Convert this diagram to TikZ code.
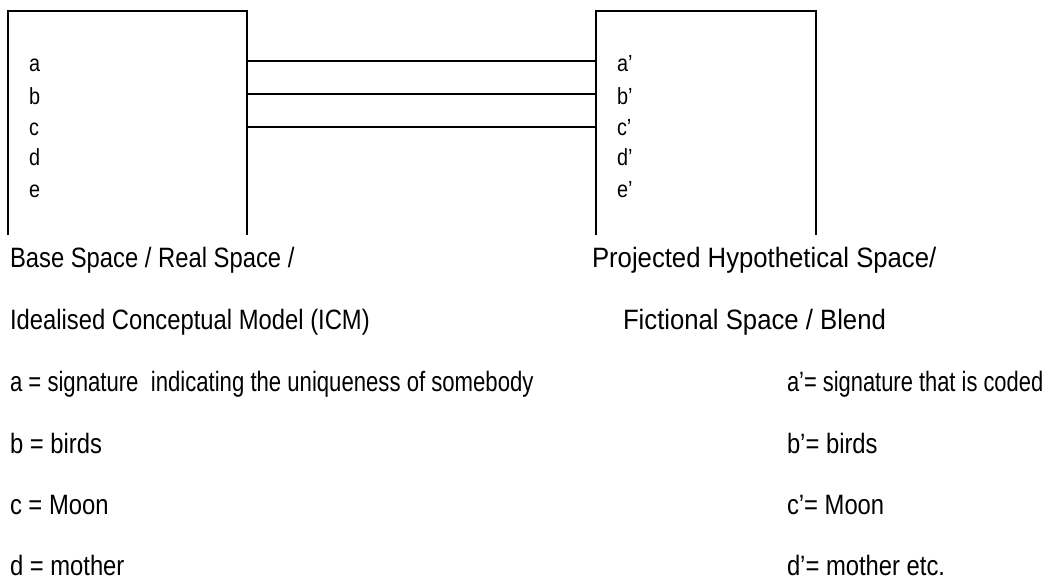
\documentclass[tikz,border=0pt]{standalone}
\usepackage{fontspec}
\setmainfont{Liberation Sans}[FakeStretch=0.85]
\begin{document}
\begin{tikzpicture}[x=0.75pt,y=-0.75pt,
  frame/.style={line width=1.1pt,black},
  link/.style={line width=1.1pt,black},
  lbl/.style={anchor=base west,inner sep=0pt,outer sep=0pt,font=\fontsize{21}{25}\selectfont},
  item/.style={anchor=base west,inner sep=0pt,outer sep=0pt,font=\fontsize{17.5}{21}\selectfont}]
\useasboundingbox (0,0) rectangle (1046,582);
% boxes (open at the bottom)
\draw[frame] (8,235) -- (8,11) -- (247,11) -- (247,235);
\draw[frame] (596,235) -- (596,11) -- (816,11) -- (816,235);
% box contents
\node[item] (a) at (29,71) {a};
\node[item] (b) at (29,104) {b};
\node[item] (c) at (29,135) {c};
\node[item] (d) at (29,165) {d};
\node[item] (e) at (29,197) {e};
\node[item] (a2) at (617,71) {a’};
\node[item] (b2) at (617,104) {b’};
\node[item] (c2) at (617,135) {c’};
\node[item] (d2) at (617,165) {d’};
\node[item] (e2) at (617,197) {e’};
% connectors between the boxes
\coordinate (la) at (247,61); \coordinate (ra) at (596,61);
\coordinate (lb) at (247,94); \coordinate (rb) at (596,94);
\coordinate (lc) at (247,127); \coordinate (rc) at (596,127);
\draw[link] (la) -- (ra);
\draw[link] (lb) -- (rb);
\draw[link] (lc) -- (rc);
% captions
\node[lbl] (t1) at (10,267) {Base Space / Real Space /};
\node[lbl] (t2) at (10,329) {Idealised Conceptual Model (ICM)};
\node[lbl] (t3) at (10,391) {\scalebox{0.93}[1]{a = signature\ \ indicating the uniqueness of somebody}};
\node[lbl] (t4) at (10,453) {b = birds};
\node[lbl] (t5) at (10,514) {c = Moon};
\node[lbl] (t6) at (10,575) {d = mother};
\node[lbl] (u1) at (592,267) {\scalebox{1.08}[1]{Projected Hypothetical Space/}};
\node[lbl] (u2) at (623,329) {\scalebox{1.08}[1]{Fictional Space / Blend}};
\node[lbl] (u3) at (787,391) {\scalebox{0.92}[1]{a’= signature that is coded}};
\node[lbl] (u4) at (787,453) {b’= birds};
\node[lbl] (u5) at (787,514) {c’= Moon};
\node[lbl] (u6) at (787,575) {d’= mother etc.};
\end{tikzpicture}
\end{document}
